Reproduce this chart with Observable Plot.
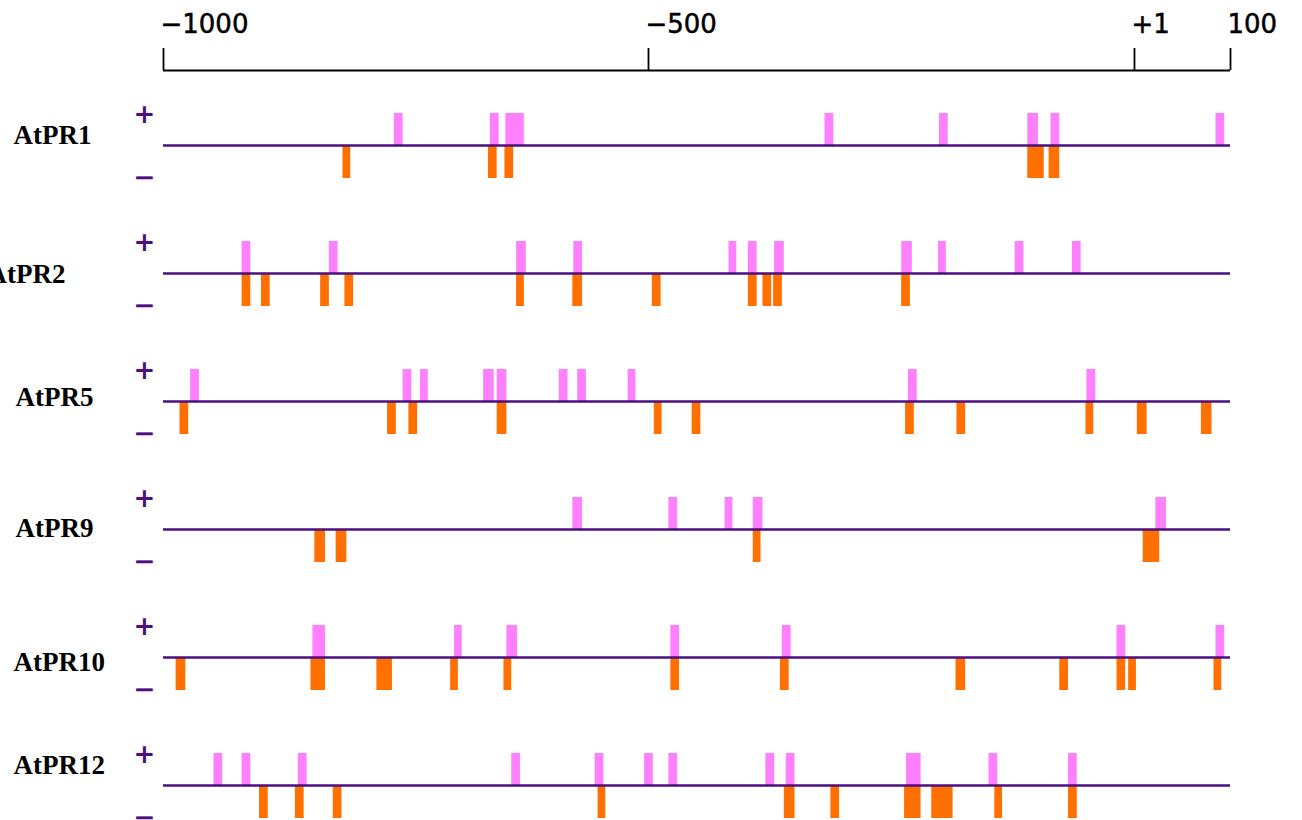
<!DOCTYPE html>
<html>
<head>
<meta charset="utf-8">
<script src="https://cdn.jsdelivr.net/npm/d3@7"></script>
<script src="https://cdn.jsdelivr.net/npm/@observablehq/plot@0.6"></script>
<style>
  html, body { margin: 0; padding: 0; background: #fff; }
  #chart { width: 1302px; height: 820px; overflow: hidden; }
</style>
</head>
<body>
<div id="chart"></div>
<script>
// ---------- DATA ----------
const genes = ["AtPR1", "AtPR2", "AtPR5", "AtPR9", "AtPR10", "AtPR12"];

// element spans [start, end] in bp relative to the TSS (+ strand / − strand)
const atpr1Plus  = [[-762,-753],[-663,-654],[-647,-628],[-318,-309],[-200,-191],[-109,-98],[-85,-76],[85,94]];
const atpr1Minus = [[-815,-807],[-665,-656],[-648,-639],[-109,-92],[-87,-76]];

const atpr2Plus  = [[-919,-910],[-829,-820],[-636,-626],[-577,-568],[-417,-409],[-397,-388],[-370,-360],[-239,-228],[-201,-193],[-122,-113],[-63,-54]];
const atpr2Minus = [[-919,-910],[-899,-890],[-838,-829],[-813,-804],[-636,-628],[-578,-568],[-496,-487],[-397,-388],[-382,-373],[-371,-362],[-239,-230]];

const atpr5Plus  = [[-972,-963],[-753,-744],[-735,-727],[-670,-659],[-656,-646],[-592,-583],[-573,-564],[-521,-513],[-232,-223],[-48,-39]];
const atpr5Minus = [[-983,-974],[-769,-760],[-747,-738],[-656,-646],[-494,-486],[-455,-446],[-235,-226],[-182,-173],[-49,-41],[4,14],[70,81]];

const atpr9Plus  = [[-578,-568],[-479,-470],[-421,-413],[-392,-382],[23,34]];
const atpr9Minus = [[-844,-833],[-822,-811],[-392,-384],[10,27]];

const atpr10Plus  = [[-846,-833],[-700,-692],[-646,-635],[-477,-468],[-362,-353],[-17,-8],[85,94]];
const atpr10Minus = [[-987,-977],[-848,-833],[-780,-764],[-704,-696],[-649,-641],[-477,-468],[-364,-355],[-183,-173],[-76,-67],[-17,-8],[-5,3],[83,91]];

const atpr12Plus  = [[-948,-939],[-919,-910],[-861,-852],[-641,-632],[-555,-546],[-504,-495],[-479,-470],[-379,-370],[-358,-349],[-234,-219],[-149,-140],[-67,-58]];
const atpr12Minus = [[-901,-892],[-864,-855],[-825,-816],[-552,-544],[-360,-349],[-312,-303],[-236,-219],[-208,-186],[-143,-135],[-67,-58]];

const plusSites  = [atpr1Plus, atpr2Plus, atpr5Plus, atpr9Plus, atpr10Plus, atpr12Plus];
const minusSites = [atpr1Minus, atpr2Minus, atpr5Minus, atpr9Minus, atpr10Minus, atpr12Minus];

const tickValues = [-1000, -500, 1, 100];
const tickLabels = ["\u22121000", "\u2212500", "+1", "100"];
const xDomain = [-1000, 100];

// ---------- LAYOUT (pixels) ----------
const W = 1302, H = 820;
const ROW_PX = 128, FIRST_BASE_PX = 145;
const px2row = p => (p - FIRST_BASE_PX) / ROW_PX;   // pixel y -> row units
const UP = 32 / ROW_PX, DOWN = 33 / ROW_PX;
const labelShiftPx = [-10, 1, -4, -1, 5, -20];       // label vertical nudge per row
const labelDxPx    = [-150, -176, -148, -148, -150, -150];

// ---------- TABLES ----------
const rows = genes.map((g, i) => ({gene: g, row: i}));
const toRecs = (sites, strand) => genes.flatMap((g, i) =>
  sites[i].map(([s, e]) => ({gene: g, row: i, start: s, end: e, strand})));
const plusRecs = toRecs(plusSites, "+");
const minusRecs = toRecs(minusSites, "-");
const ticks = tickValues.map((v, i) => ({v, label: tickLabels[i]}));

const AXIS_Y = px2row(70), TICK_TOP = px2row(48), LABEL_Y = px2row(24);

const chart = Plot.plot({
  width: W, height: H,
  marginLeft: 163, marginRight: W - 1230, marginTop: 0, marginBottom: 0,
  x: {domain: xDomain, axis: null},
  y: {type: "linear", domain: [px2row(0), px2row(H)], range: [0, H], axis: null},
  style: {background: "#fff", overflow: "visible"},
  marks: [
    // top ruler
    Plot.ruleY([AXIS_Y], {x1: xDomain[0], x2: xDomain[1], stroke: "#000", strokeWidth: 2.2}),
    Plot.ruleX(ticks, {x: "v", y1: TICK_TOP, y2: AXIS_Y, stroke: "#000", strokeWidth: 1.8}),
    Plot.text(ticks, {x: "v", y: LABEL_Y, text: "label", textAnchor: "start", lineAnchor: "middle",
      dx: -3, fontFamily: "DejaVu Sans", fontSize: 26, fill: "#000", stroke: "#000", strokeWidth: 0.5}),
    // element boxes
    Plot.rectY(plusRecs, {x1: "start", x2: "end", y1: d => d.row - UP, y2: d => d.row, fill: "#ff80ff", inset: 0}),
    Plot.rectY(minusRecs, {x1: "start", x2: "end", y1: d => d.row, y2: d => d.row + DOWN, fill: "#ff7000", inset: 0}),
    // baselines
    Plot.ruleY(rows, {y: "row", x1: xDomain[0], x2: xDomain[1], stroke: "#4b0f82", strokeWidth: 2.4}),
    // strand signs
    Plot.text(rows, {y: d => d.row + px2row(114) - px2row(145), frameAnchor: "left", dx: -19, text: () => "+",
      textAnchor: "middle", lineAnchor: "middle", fontFamily: "DejaVu Sans", fontWeight: "bold", fontSize: 26, fill: "#4b0f82"}),
    Plot.text(rows, {y: d => d.row + px2row(177) - px2row(145), frameAnchor: "left", dx: -19, text: () => "\u2212",
      textAnchor: "middle", lineAnchor: "middle", fontFamily: "DejaVu Sans", fontSize: 26, fill: "#4b0f82", stroke: "#4b0f82", strokeWidth: 0.4}),
    // gene labels
    ...rows.map((r, i) => Plot.text([r], {y: d => d.row + labelShiftPx[i] / ROW_PX, frameAnchor: "left", dx: labelDxPx[i],
      text: "gene", textAnchor: "start", lineAnchor: "middle",
      fontFamily: "Liberation Serif", fontWeight: "bold", fontSize: 27, fill: "#000"}))
  ]
});
document.getElementById("chart").appendChild(chart);
</script>
</body>
</html>
